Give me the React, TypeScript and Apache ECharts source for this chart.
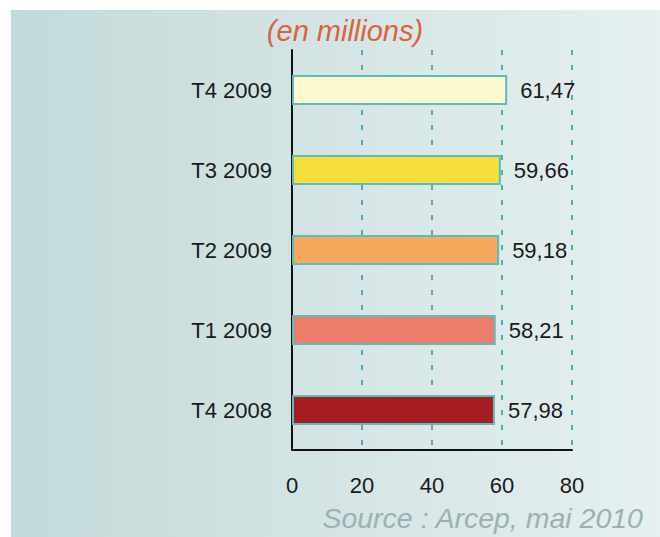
import React, { useEffect, useRef } from "react";
import * as echarts from "echarts";

const categories = ["T4 2008", "T1 2009", "T2 2009", "T3 2009", "T4 2009"];
const values = [57.98, 58.21, 59.18, 59.66, 61.47];
const barColors = ["#a51d20", "#ee7d6c", "#f6a95c", "#f6de3c", "#fcf9d0"];
const xTicks = [0, 20, 40, 60, 80];
const titleText = "(en millions)";
const sourceText = "Source : Arcep, mai 2010";

const FONT = "'Liberation Sans', Arial, sans-serif";

export default function App() {
  const ref = useRef<HTMLDivElement>(null);
  useEffect(() => {
    if (!ref.current) return;
    const chart = echarts.init(ref.current, undefined, { renderer: "svg" });
    chart.setOption({
      animation: false,
      backgroundColor: "#ffffff",
      graphic: [
        {
          type: "rect",
          z: -10,
          silent: true,
          shape: { x: 11, y: 10, width: 649, height: 527 },
          style: {
            fill: new echarts.graphic.LinearGradient(0, 0, 1, 0, [
              { offset: 0, color: "#c3d9d9" },
              { offset: 1, color: "#e6f0f0" },
            ]),
          },
        },
        {
          type: "text",
          x: 345,
          y: 31,
          style: {
            text: titleText,
            font: `italic 29px ${FONT}`,
            fill: "#d9643b",
            textAlign: "center",
            textVerticalAlign: "middle",
          },
        },
        {
          type: "text",
          right: 16,
          top: 503,
          style: {
            text: sourceText,
            font: `italic 28.5px ${FONT}`,
            fill: "#9cb1b3",
          },
        },
      ],
      grid: { left: 292, right: 88, top: 50, bottom: 87, containLabel: false },
      xAxis: {
        type: "value",
        min: 0,
        max: 80,
        interval: 20,
        axisLine: { show: true, lineStyle: { color: "#111", width: 2 } },
        axisTick: { show: false },
        axisLabel: {
          color: "#1a1a1a",
          fontSize: 22,
          fontFamily: FONT,
          margin: 24,
          formatter: (v: number) => (xTicks.includes(v) ? String(v) : ""),
        },
        splitLine: {
          show: true,
          lineStyle: { color: "#4aafb0", width: 2, type: [5, 10] },
        },
      },
      yAxis: {
        type: "category",
        data: categories,
        axisLine: { show: true, lineStyle: { color: "#111", width: 2 } },
        axisTick: { show: false },
        axisLabel: {
          color: "#1a1a1a",
          fontSize: 22,
          fontFamily: FONT,
          margin: 20,
        },
        splitLine: { show: false },
      },
      series: [
        {
          type: "bar",
          barWidth: 30,
          data: values.map((v, i) => ({
            value: v,
            itemStyle: { color: barColors[i] },
          })),
          itemStyle: { borderColor: "#5bbcbc", borderWidth: 2 },
          label: {
            show: true,
            position: "right",
            distance: 13,
            color: "#1a1a1a",
            fontSize: 22,
            fontFamily: FONT,
            formatter: (p: any) => Number(p.value).toFixed(2).replace(".", ","),
          },
        },
      ],
    });
    return () => chart.dispose();
  }, []);
  return (
    <div
      ref={ref}
      style={{ position: "fixed", left: 0, top: 0, width: 660, height: 537 }}
    />
  );
}
